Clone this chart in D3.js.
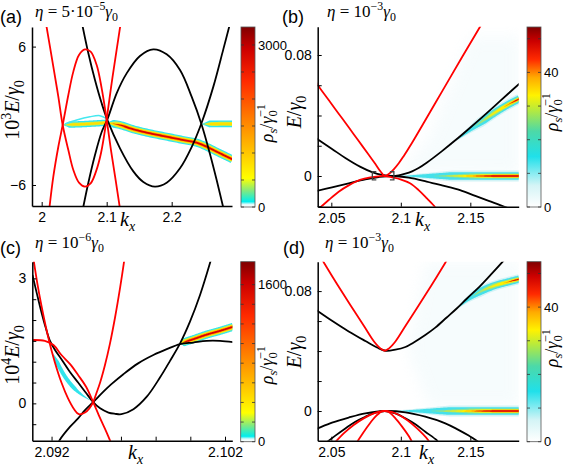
<!DOCTYPE html>
<html><head><meta charset="utf-8">
<script src="https://cdn.jsdelivr.net/npm/d3@7/dist/d3.min.js"></script>
<style>html,body{margin:0;padding:0;background:#fff;}</style>
</head><body>
<svg id="fig" width="564" height="467" xmlns="http://www.w3.org/2000/svg"></svg>
<script>
// ---------------- DATA ----------------
// Panel (a): eta = 5e-5 gamma0, E in units of 1e-3 gamma0
const a_kRange = [1.9851, 2.2928];
const a_ERange = [-7.82, 7.70];
const a_kTicks = [2, 2.1, 2.2];
const a_kTickText = ['2', '2.1', '2.2'];
const a_ETicks = [-6, 6];
const a_ETickText = ['\u22126', '6'];
const a_red1 = [[2.0066,8.02],[2.0179,4.26],[2.0256,1.66],[2.0323,-0.80],[2.0410,-2.97],[2.0487,-4.70],[2.0574,-5.80],[2.0666,-6.14],[2.0753,-5.86],[2.0835,-4.84],[2.0912,-3.25],[2.0999,-0.30],[2.1076,2.82],[2.1153,5.71],[2.1215,8.02]];
const a_red2 = [[2.0117,-8.08],[2.0179,-5.28],[2.0256,-2.68],[2.0323,-0.80],[2.0410,1.80],[2.0487,3.83],[2.0574,5.27],[2.0666,5.76],[2.0753,5.56],[2.0846,4.40],[2.0923,2.38],[2.0999,-0.30],[2.1066,-2.97],[2.1138,-5.57],[2.1205,-8.08]];
const a_blk1 = [[2.0620,8.02],[2.0718,5.42],[2.0820,3.10],[2.0923,1.08],[2.1010,-0.35],[2.1205,-2.82],[2.1410,-4.82],[2.1564,-5.74],[2.1743,-6.14],[2.1923,-5.80],[2.2128,-4.55],[2.2307,-2.71],[2.2461,-0.60],[2.2641,2.53],[2.2794,5.76],[2.2912,8.31]];
const a_blk2 = [[2.0620,-8.46],[2.0718,-5.80],[2.0820,-3.40],[2.0923,-1.40],[2.1010,-0.32],[2.1153,1.95],[2.1307,3.68],[2.1512,5.19],[2.1717,5.76],[2.1923,5.33],[2.2128,3.97],[2.2307,1.66],[2.2461,-0.77],[2.2589,-3.31],[2.2692,-5.57],[2.2815,-8.46]];
const a_bandMain = [[2.0999,-0.60],[2.1205,-0.80],[2.1410,-1.17],[2.1666,-1.52],[2.1923,-1.81],[2.2179,-2.10],[2.2384,-2.33],[2.2538,-2.68],[2.2692,-3.11],[2.2933,-3.77]];
const a_bandLeft = [[2.0323,-0.78],[2.0641,-0.72],[2.0999,-0.60]];
const a_arc = [[2.0358,-0.71],[2.0538,-0.36],[2.0743,-0.08],[2.0897,0.01],[2.0999,-0.25]];
const a_bandRight = [[2.2461,-0.72],[2.2700,-0.70],[2.2933,-0.70]];
const a_cbMax = 3333;
const a_cbTicks = [0,500,1000,1500,2000,2500,3000];
const a_cbTickText = ['0','','','','','','3000'];

// Panel (b): eta = 1e-3 gamma0
const b_kRange = [2.0402, 2.1848];
const b_ERange = [-0.0203, 0.0987];
const b_kTicks = [2.05, 2.1, 2.15];
const b_kTickText = ['2.05', '2.1', '2.15'];
const b_ETicks = [-0.02, 0, 0.02, 0.04, 0.06, 0.08];
const b_ETickText = ['', '0', '', '', '', '0.08'];
const b_red1 = [[2.0385,0.0630],[2.0402,0.0602],[2.0481,0.0502],[2.0553,0.0412],[2.0625,0.0322],[2.0697,0.0231],[2.0769,0.0141],[2.0817,0.0079],[2.0853,0.0031],[2.0884,0.0000],[2.0913,0.0013],[2.0949,0.0044],[2.0985,0.0084],[2.1018,0.0128],[2.1081,0.0220],[2.1152,0.0331],[2.1296,0.0558],[2.1440,0.0785],[2.1570,0.0987],[2.1608,0.1049]];
const b_red2 = [[2.0414,-0.0214],[2.0481,-0.0159],[2.0553,-0.0104],[2.0625,-0.0062],[2.0706,-0.0026],[2.0781,-0.0009],[2.0841,-0.0002],[2.0884,0.0000],[2.0937,-0.0009],[2.0997,-0.0022],[2.1066,-0.0048],[2.1128,-0.0093],[2.1188,-0.0148],[2.1244,-0.0203],[2.1253,-0.0220]];
const b_blk1 = [[2.0385,0.0253],[2.0505,0.0179],[2.0601,0.0119],[2.0706,0.0062],[2.0793,0.0026],[2.0865,0.0007],[2.0937,0.0000],[2.0985,0.0004],[2.1033,0.0015],[2.1081,0.0031],[2.1128,0.0053],[2.1186,0.0088],[2.1294,0.0163],[2.1392,0.0236],[2.1488,0.0311],[2.1584,0.0388],[2.1680,0.0467],[2.1776,0.0547],[2.1853,0.0610]];
const b_blk2 = [[2.0385,-0.0101],[2.0505,-0.0075],[2.0625,-0.0048],[2.0745,-0.0022],[2.0841,-0.0007],[2.0937,0.0000],[2.1057,-0.0011],[2.1186,-0.0037],[2.1296,-0.0062],[2.1426,-0.0093],[2.1536,-0.0132],[2.1632,-0.0165],[2.1714,-0.0192],[2.1776,-0.0214]];
const b_bandH = [[2.0961,0],[2.1100,0],[2.1300,0],[2.1500,0],[2.1700,0],[2.1853,0]];
const b_bandUp = [[2.1392,0.0227],[2.1488,0.0298],[2.1584,0.0361],[2.1680,0.0421],[2.1776,0.0474],[2.1853,0.0510]];
const b_faint = [[2.0990,0.0015],[2.1200,0.0250],[2.1500,0.0920],[2.1853,0.0920],[2.1853,0.0010]];
const b_bracketK = [2.0795, 2.0950];
const b_bracketE = [-0.0026, 0.0028];
const b_cbMax = 53.5;
const b_cbTicks = [0,10,20,30,40,50];
const b_cbTickText = ['0','','','','40',''];

// Panel (c): eta = 1e-6 gamma0, E in units of 1e-4 gamma0
const c_kRange = [2.09089, 2.10242];
const c_ERange = [-0.896, 3.40];
const c_kTicks = [2.092, 2.094, 2.096, 2.098, 2.100, 2.102];
const c_kTickText = ['2.092', '', '', '', '', '2.102'];
const c_ETicks = [-0.5, 0, 0.5, 1, 1.5, 2, 2.5, 3];
const c_ETickText = ['', '0', '', '', '', '', '', '3'];
const c_red1 = [[2.09088,3.68],[2.09118,2.88],[2.09141,2.36],[2.09180,1.60],[2.09218,1.00],[2.09257,0.50],[2.09295,0.12],[2.09330,-0.14],[2.09357,-0.26],[2.09393,-0.22],[2.09418,-0.12],[2.09440,0.03],[2.09460,0.26],[2.09480,0.50],[2.09508,0.92],[2.09537,1.44],[2.09566,2.06],[2.09595,2.77],[2.09624,3.57]];
const c_red2 = [[2.09090,1.52],[2.09161,1.50],[2.09211,1.40],[2.09257,1.16],[2.09307,0.94],[2.09353,0.68],[2.09399,0.40],[2.09440,0.03],[2.09472,-0.28],[2.09507,-0.60],[2.09538,-0.90],[2.09549,-1.02]];
const c_blk1 = [[2.09090,3.08],[2.09115,2.64],[2.09141,2.20],[2.09166,1.82],[2.09189,1.52],[2.09220,1.28],[2.09257,1.06],[2.09305,0.76],[2.09353,0.50],[2.09397,0.26],[2.09440,0.03],[2.09480,-0.12],[2.09528,-0.22],[2.09566,-0.25],[2.09603,-0.26],[2.09672,-0.14],[2.09749,0.16],[2.09825,0.62],[2.09883,1.02],[2.09941,1.44],[2.09998,1.96],[2.10056,2.60],[2.10113,3.36],[2.10133,3.66]];
const c_blk2 = [[2.09230,-1.04],[2.09247,-0.88],[2.09307,-0.56],[2.09353,-0.36],[2.09393,-0.16],[2.09440,0.03],[2.09499,0.28],[2.09545,0.46],[2.09614,0.70],[2.09699,0.96],[2.09787,1.16],[2.09864,1.30],[2.09941,1.42],[2.10017,1.46],[2.10094,1.50],[2.10171,1.50],[2.10248,1.47]];
const c_bandL = [[2.09209,1.20],[2.09247,0.86],[2.09286,0.59],[2.09334,0.35],[2.09382,0.18],[2.09430,0.06]];
const c_bandR = [[2.09941,1.44],[2.10017,1.54],[2.10094,1.65],[2.10171,1.74],[2.10248,1.84]];
const c_cbMax = 1834;
const c_cbTicks = [0,200,400,600,800,1000,1200,1400,1600];
const c_cbTickText = ['0','','','','','','','','1600'];

// Panel (d): eta = 1e-3 gamma0
const d_kRange = [2.0402, 2.1848];
const d_ERange = [-0.0198, 0.0996];
const d_kTicks = [2.05, 2.1, 2.15];
const d_kTickText = ['2.05', '2.1', '2.15'];
const d_ETicks = [0, 0.02, 0.04, 0.06, 0.08];
const d_ETickText = ['0', '', '', '', '0.08'];
const d_red1 = [[2.0433,0.1011],[2.0447,0.0989],[2.0543,0.0844],[2.0639,0.0704],[2.0735,0.0567],[2.0807,0.0464],[2.0855,0.0416],[2.0884,0.0402],[2.0913,0.0416],[2.0961,0.0464],[2.1033,0.0567],[2.1128,0.0704],[2.1224,0.0844],[2.1320,0.0989],[2.1334,0.1011]];
const d_blk1 = [[2.0385,0.0678],[2.0402,0.0667],[2.0505,0.0602],[2.0625,0.0531],[2.0745,0.0467],[2.0829,0.0424],[2.0889,0.0402],[2.0961,0.0409],[2.1033,0.0427],[2.1090,0.0456],[2.1176,0.0507],[2.1248,0.0556],[2.1330,0.0624],[2.1402,0.0684],[2.1474,0.0749],[2.1570,0.0833],[2.1656,0.0918],[2.1738,0.1002],[2.1757,0.1022]];
const d_blk2 = [[2.0385,-0.0122],[2.0402,-0.0116],[2.0505,-0.0078],[2.0625,-0.0044],[2.0745,-0.0016],[2.0889,0.0000],[2.1033,-0.0009],[2.1176,-0.0038],[2.1320,-0.0082],[2.1411,-0.0124],[2.1488,-0.0164],[2.1560,-0.0207]];
const d_blk3 = [[2.0469,-0.0207],[2.0529,-0.0164],[2.0601,-0.0116],[2.0673,-0.0071],[2.0745,-0.0038],[2.0817,-0.0011],[2.0884,0.0000],[2.0961,-0.0016],[2.1033,-0.0049],[2.1105,-0.0089],[2.1176,-0.0138],[2.1256,-0.0193],[2.1268,-0.0207]];
const d_red2 = [[2.0529,-0.0207],[2.0589,-0.0149],[2.0661,-0.0093],[2.0733,-0.0049],[2.0805,-0.0016],[2.0865,0.0000],[2.0908,0.0000],[2.0973,-0.0020],[2.1045,-0.0060],[2.1117,-0.0116],[2.1196,-0.0193],[2.1205,-0.0207]];
const d_red3 = [[2.0685,-0.0207],[2.0721,-0.0156],[2.0769,-0.0093],[2.0817,-0.0038],[2.0860,-0.0004],[2.0884,0.0000],[2.0913,-0.0007],[2.0961,-0.0049],[2.1009,-0.0104],[2.1057,-0.0167],[2.1081,-0.0207]];
const d_bandH = [[2.0930,0],[2.1100,0],[2.1300,0],[2.1500,0],[2.1700,0],[2.1853,0]];
const d_bandUp = [[2.1392,0.0673],[2.1488,0.0747],[2.1584,0.0802],[2.1680,0.0838],[2.1776,0.0862],[2.1853,0.0880]];
const d_faint = [[2.1050,0.0400],[2.1180,0.0996],[2.1853,0.0996],[2.1853,0.0030],[2.1200,0.0030]];
const d_cbMax = 53.5;
const d_cbTicks = [0,10,20,30,40,50];
const d_cbTickText = ['0','','','','40',''];

// colormaps
const cmapAC = [[0,'#ffffff'],[0.015,'#dffafa'],[0.03,'#00eeee'],[0.09,'#80ea80'],[0.16,'#ffff00'],[0.32,'#ffbf00'],[0.5,'#ff7a00'],[0.7,'#ff2a00'],[0.88,'#cc0000'],[1,'#800000']];
const cmapBD = [[0,'#ffffff'],[0.12,'#d4f4f6'],[0.28,'#20e0ea'],[0.42,'#4cd9a8'],[0.54,'#b8ea3c'],[0.62,'#fff200'],[0.72,'#ffaa00'],[0.82,'#ff2a00'],[0.92,'#cc0000'],[1,'#800000']];

// ---------------- RENDER ----------------
const SANS = 'Liberation Sans, Arial, Helvetica, sans-serif';
const SERIF = 'Liberation Serif, Times New Roman, serif';
const svg = d3.select('#fig');
const defs = svg.append('defs');
svg.append('rect').attr('width',564).attr('height',467).attr('fill','#fff');
defs.append('filter').attr('id','soft').attr('x','-20%').attr('y','-20%').attr('width','140%').attr('height','140%')
  .append('feGaussianBlur').attr('stdDeviation',7);

const sharpLayers = [
  {c:'#2fe6ee', w:4.0, s:0, r:0.05},
  {c:'#a6ea7a', w:2.9, s:0, r:0.07},
  {c:'#ffe800', w:2.3, s:0, r:0.09},
  {c:'#ff9c00', w:1.5, s:0.03, r:0.1},
  {c:'#dd0000', w:0.9, s:0.05, r:0.1}
];
const leftLayersA = [{c:'#2fe6ee', w:3.2, s:0, r:0.15},{c:'#c8ec50', w:1.9, s:0, r:0.2},{c:'#ffe000', w:1.1, s:0.05, r:0.2}];
const rightLayersA = [{c:'#2fe6ee', w:3.4, s:0, r:0.25},{c:'#c8ec50', w:2.0, s:0.05, r:0.25},{c:'#ffe000', w:1.3, s:0.1, r:0.25}];
const cyanOnly = [{c:'#30e4ec', w:2.0, s:0, r:0.15, e:1, re:0.35}];
const softH = [
  {c:'#d2f3f6', w:5.4, s:0, r:0.45},
  {c:'#45e0ea', w:3.8, s:0.05, r:0.4},
  {c:'#8fe38a', w:2.4, s:0.3, r:0.3},
  {c:'#fff000', w:1.7, s:0.4, r:0.3},
  {c:'#ff8a00', w:1.2, s:0.55, r:0.25},
  {c:'#e00000', w:0.8, s:0.62, r:0.2}
];
const softUp = [
  {c:'#d2f3f6', w:5.0, s:0, r:0.4},
  {c:'#45e0ea', w:3.6, s:0.05, r:0.4},
  {c:'#9fe57a', w:2.2, s:0.3, r:0.3},
  {c:'#fff000', w:1.4, s:0.45, r:0.3},
  {c:'#ff9000', w:0.9, s:0.75, r:0.2},
  {c:'#e00000', w:0.5, s:0.85, r:0.1}
];

function clamp01(v){return Math.max(0,Math.min(1,v));}
function layerW(L,t){
  let f = clamp01((t-(L.s||0))/(L.r||0.001));
  if(L.e!==undefined) f *= clamp01((L.e-t)/(L.re||0.001));
  return L.w*f;
}
function drawBand(g,x,y,pts,layers){
  const line = d3.line().x(d=>x(d[0])).y(d=>y(d[1])).curve(d3.curveCatmullRom.alpha(0.5));
  const tmp = g.append('path').attr('d',line(pts)).attr('fill','none').attr('stroke','none');
  const node = tmp.node(); const Ln = node.getTotalLength(); const N = 90;
  const s = d3.range(N+1).map(i=>{const p=node.getPointAtLength(Ln*i/N); return [p.x,p.y,i/N];});
  tmp.remove();
  const nrm = s.map((p,i)=>{const a=s[Math.max(0,i-1)], b=s[Math.min(N,i+1)];
    const dx=b[0]-a[0], dy=b[1]-a[1]; const l=Math.hypot(dx,dy)||1; return [-dy/l, dx/l];});
  layers.forEach(L=>{
    const w = s.map(p=>layerW(L,p[2]));
    const left = s.map((p,i)=>[p[0]+nrm[i][0]*w[i], p[1]+nrm[i][1]*w[i]]);
    const right = s.map((p,i)=>[p[0]-nrm[i][0]*w[i], p[1]-nrm[i][1]*w[i]]).reverse();
    g.append('path').attr('d', d3.line()(left.concat(right))+'Z').attr('fill',L.c);
  });
}

function mtext(parent,x,y,parts,o){
  const t = parent.append('text').attr('x',x).attr('y',y)
    .attr('font-family',o.family).attr('font-size',o.size).attr('fill','#000');
  if(o.anchor) t.attr('text-anchor',o.anchor);
  if(o.rotate) t.attr('transform',`rotate(${o.rotate},${x},${y})`);
  let cur = 0;
  parts.forEach(p=>{
    let target = 0, fs = o.size;
    if(p.sup){target = -o.size*0.42; fs = o.size*0.7;}
    if(p.sub){target = o.size*0.24; fs = o.size*0.7;}
    const ts = t.append('tspan').text(p.t).attr('font-size',fs).attr('dy',target-cur);
    if(p.it) ts.attr('font-style','italic');
    if(p.dx) ts.attr('dx',p.dx);
    cur = target;
  });
  return t;
}

const eta = (ex,pre)=>[{t:'\u03b7',it:1},{t:' = '+pre+'10'},{t:ex,sup:1},{t:'\u03b3',it:1},{t:'0',sub:1}];
const xlabParts = [{t:'k',it:1},{t:'x',sub:1,it:1}];
const cbParts = [{t:'\u03c1',it:1},{t:'s',sub:1,it:1},{t:'/'},{t:'\u03b3',it:1},{t:'0',sub:1},{t:'\u22121',sup:1,dx:-7}];
const ylabE = [{t:'E',it:1},{t:'/'},{t:'\u03b3',it:1},{t:'0',sub:1}];

const panels = [
 {id:'a', box:{l:32,t:27,r:232,b:206}, cb:{x0:241,x1:255,y0:27,y1:207},
  kRange:a_kRange, ERange:a_ERange, xT:a_kTicks, xTT:a_kTickText, yT:a_ETicks, yTT:a_ETickText,
  cbMax:a_cbMax, cbT:a_cbTicks, cbTT:a_cbTickText, cmap:cmapAC,
  black:[a_blk1,a_blk2], red:[a_red1,a_red2], faint:null,
  bands:[[a_bandLeft,leftLayersA],[a_bandMain,sharpLayers],[a_bandRight,rightLayersA]],
  thin:[a_arc],
  letter:['(a)',0,23], title:[35,17,eta('\u22125','5\u00b7')],
  ylab:[19,110,[{t:'10'},{t:'3',sup:1},{t:'E',it:1},{t:'/'},{t:'\u03b3',it:1},{t:'0',sub:1}]],
  xlab:[120,226], cblab:[273,123]},
 {id:'b', box:{l:317.7,t:26.7,r:518.7,b:206.7}, cb:{x0:527,x1:541,y0:27,y1:207},
  kRange:b_kRange, ERange:b_ERange, xT:b_kTicks, xTT:b_kTickText, yT:b_ETicks, yTT:b_ETickText,
  cbMax:b_cbMax, cbT:b_cbTicks, cbTT:b_cbTickText, cmap:cmapBD,
  black:[b_blk1,b_blk2], red:[b_red1,b_red2], faint:b_faint,
  bands:[[b_bandH,softH],[b_bandUp,softUp]], thin:[], bracket:true,
  letter:['(b)',282,23], title:[327,17,eta('\u22123','')],
  ylab:[301,112,ylabE], xlab:[415,226], cblab:[558,112]},
 {id:'c', box:{l:32.3,t:261.7,r:232.3,b:440.7}, cb:{x0:240.7,x1:255,y0:261.7,y1:441.7},
  kRange:c_kRange, ERange:c_ERange, xT:c_kTicks, xTT:c_kTickText, yT:c_ETicks, yTT:c_ETickText,
  cbMax:c_cbMax, cbT:c_cbTicks, cbTT:c_cbTickText, cmap:cmapAC,
  black:[c_blk1,c_blk2], red:[c_red1,c_red2], faint:null,
  bands:[[c_bandL,cyanOnly],[c_bandR,sharpLayers]], thin:[],
  letter:['(c)',0,254], title:[35,248,eta('\u22126','')],
  ylab:[19,355,[{t:'10'},{t:'4',sup:1},{t:'E',it:1},{t:'/'},{t:'\u03b3',it:1},{t:'0',sub:1}]],
  xlab:[128,459], cblab:[273,365]},
 {id:'d', box:{l:317.7,t:261.7,r:518.7,b:440.7}, cb:{x0:527,x1:541,y0:261.7,y1:441.7},
  kRange:d_kRange, ERange:d_ERange, xT:d_kTicks, xTT:d_kTickText, yT:d_ETicks, yTT:d_ETickText,
  cbMax:d_cbMax, cbT:d_cbTicks, cbTT:d_cbTickText, cmap:cmapBD,
  black:[d_blk1,d_blk2,d_blk3], red:[d_red1,d_red2,d_red3], faint:d_faint,
  bands:[[d_bandH,softH],[d_bandUp,softUp]], thin:[],
  letter:['(d)',283,254], title:[325,248,eta('\u22123','')],
  ylab:[301,352,ylabE], xlab:[419,459], cblab:[558,348]}
];

panels.forEach(P=>{
  const B = P.box;
  const x = d3.scaleLinear().domain(P.kRange).range([B.l,B.r]);
  const y = d3.scaleLinear().domain(P.ERange).range([B.b,B.t]);
  const cid = 'clip'+P.id;
  defs.append('clipPath').attr('id',cid).append('rect')
    .attr('x',B.l).attr('y',B.t).attr('width',B.r-B.l).attr('height',B.b-B.t);
  const g = svg.append('g').attr('clip-path',`url(#${cid})`);
  const line = d3.line().x(d=>x(d[0])).y(d=>y(d[1])).curve(d3.curveCatmullRom.alpha(0.5));
  if(P.faint){
    g.append('path').attr('d', d3.line().x(d=>x(d[0])).y(d=>y(d[1])).curve(d3.curveLinearClosed)(P.faint))
      .attr('fill','#e2f4f8').attr('opacity',0.3).attr('filter','url(#soft)');
  }
  P.bands.forEach(([pts,layers])=>drawBand(g,x,y,pts,layers));
  P.thin.forEach(pts=>g.append('path').attr('d',line(pts)).attr('fill','none').attr('stroke','#45e8ef').attr('stroke-width',1.5));
  P.black.forEach(pts=>g.append('path').attr('d',line(pts)).attr('fill','none').attr('stroke','#000').attr('stroke-width',1.8));
  P.red.forEach(pts=>g.append('path').attr('d',line(pts)).attr('fill','none').attr('stroke','#ff0000').attr('stroke-width',1.8));
  if(P.bracket){
    const [k0,k1] = b_bracketK, [e0,e1] = b_bracketE;
    const X0=x(k0), X1=x(k1), Y0=y(e0), Y1=y(e1);
    svg.append('path').attr('d',`M${X0+4},${Y1}H${X0}V${Y0}H${X0+4}M${X1-4},${Y1}H${X1}V${Y0}H${X1-4}`)
      .attr('fill','none').attr('stroke','#444').attr('stroke-width',1.3);
  }
  // axes
  const gx = svg.append('g').attr('transform',`translate(0,${B.b})`)
    .call(d3.axisBottom(x).tickValues(P.xT).tickFormat((d,i)=>P.xTT[i]).tickSizeInner(-4).tickSizeOuter(0).tickPadding(6));
  const gy = svg.append('g').attr('transform',`translate(${B.l},0)`)
    .call(d3.axisLeft(y).tickValues(P.yT).tickFormat((d,i)=>P.yTT[i]).tickSizeInner(-4).tickSizeOuter(0).tickPadding(6));
  [gx,gy].forEach(a=>{
    a.attr('font-family',SANS).attr('font-size',14);
    a.select('.domain').attr('stroke','#000').attr('stroke-width',1.5);
    a.selectAll('.tick line').attr('stroke','#000').attr('stroke-width',1);
    a.selectAll('.tick text').attr('fill','#000');
  });
  // colorbar
  const C = P.cb; const gid = 'grad'+P.id;
  const grad = defs.append('linearGradient').attr('id',gid).attr('x1',0).attr('y1',1).attr('x2',0).attr('y2',0);
  P.cmap.forEach(st=>grad.append('stop').attr('offset',st[0]).attr('stop-color',st[1]));
  svg.append('rect').attr('x',C.x0).attr('y',C.y0).attr('width',C.x1-C.x0).attr('height',C.y1-C.y0)
    .attr('fill',`url(#${gid})`).attr('stroke','#555').attr('stroke-width',0.8);
  const cy = d3.scaleLinear().domain([0,P.cbMax]).range([C.y1,C.y0]);
  P.cbT.forEach((v,i)=>{
    const yy = cy(v);
    svg.append('line').attr('x1',C.x0).attr('x2',C.x0+3).attr('y1',yy).attr('y2',yy).attr('stroke','#333').attr('stroke-width',0.8);
    svg.append('line').attr('x1',C.x1-3).attr('x2',C.x1).attr('y1',yy).attr('y2',yy).attr('stroke','#333').attr('stroke-width',0.8);
    if(P.cbTT[i]) svg.append('text').attr('x',C.x1+3).attr('y',yy).attr('dy','0.35em')
      .attr('font-family',SANS).attr('font-size',13).text(P.cbTT[i]);
  });
  // texts
  svg.append('text').attr('x',P.letter[1]).attr('y',P.letter[2]).attr('font-family',SANS).attr('font-size',18).text(P.letter[0]);
  mtext(svg,P.title[0],P.title[1],P.title[2],{family:SERIF,size:17});
  mtext(svg,P.ylab[0],P.ylab[1],P.ylab[2],{family:SERIF,size:20,anchor:'middle',rotate:-90});
  mtext(svg,P.xlab[0],P.xlab[1],xlabParts,{family:SERIF,size:20});
  mtext(svg,P.cblab[0],P.cblab[1],cbParts,{family:SERIF,size:18,anchor:'middle',rotate:-90});
});
</script></body></html>
